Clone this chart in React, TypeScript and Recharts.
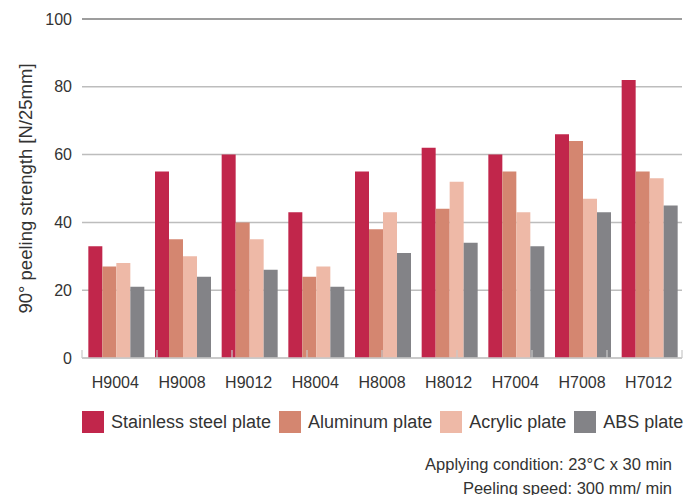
import { BarChart, Bar, XAxis, YAxis, CartesianGrid, ReferenceLine } from 'recharts'

const categories = ['H9004', 'H9008', 'H9012', 'H8004', 'H8008', 'H8012', 'H7004', 'H7008', 'H7012']
const stainless = [33, 55, 60, 43, 55, 62, 60, 66, 82]
const aluminum = [27, 35, 40, 24, 38, 44, 55, 64, 55]
const acrylic = [28, 30, 35, 27, 43, 52, 43, 47, 53]
const abs = [21, 24, 26, 21, 31, 34, 33, 43, 45]
const yTicks = [0, 20, 40, 60, 80, 100]
const boundaryTicks = [0, 1, 2, 3, 4, 5, 6, 7, 8, 9]

const SERIES = [
  { key: 'stainless', name: 'Stainless steel plate', color: '#c1264b' },
  { key: 'aluminum', name: 'Aluminum plate', color: '#d48670' },
  { key: 'acrylic', name: 'Acrylic plate', color: '#eeb9a7' },
  { key: 'abs', name: 'ABS plate', color: '#838387' },
]

const NOTES = ['Applying condition: 23°C x 30 min', 'Peeling speed: 300 mm/ min']

const data = categories.map((name, i) => ({
  name,
  stainless: stainless[i],
  aluminum: aluminum[i],
  acrylic: acrylic[i],
  abs: abs[i],
}))

const FONT = '"Liberation Sans", Arial, Helvetica, sans-serif'
const TEXT = '#333'

const YLabel = (props: any) => {
  const { viewBox } = props
  const cx = viewBox.x + 32
  const cy = viewBox.y + viewBox.height / 2
  return (
    <text x={cx} y={cy} transform={`rotate(-90 ${cx} ${cy})`} textAnchor="middle" fill={TEXT} fontSize={18.5} fontFamily={FONT}>
      90° peeling strength [N/25mm]
    </text>
  )
}

export default function App() {
  return (
    <div style={{ position: 'absolute', left: 0, top: 0, width: 684, height: 495, fontFamily: FONT, color: TEXT, background: '#fff' }}>
      <BarChart
        width={684}
        height={495}
        data={data}
        margin={{ top: 19, right: 2, left: 0, bottom: 107 }}
        barCategoryGap="9.5%"
        barGap={0}
      >
        <CartesianGrid vertical={false} stroke="#bdbdbd" strokeWidth={1.5} />
        <ReferenceLine y={100} stroke="#8c8c8c" strokeWidth={1.5} />
        <XAxis
          dataKey="name"
          axisLine={false}
          tickLine={false}
          height={30}
          tickSize={8}
          tickMargin={11}
          interval={0}
          tick={{ fontSize: 16, fill: TEXT, fontFamily: FONT }}
        />
        <XAxis
          xAxisId="bounds"
          type="number"
          domain={[0, 9]}
          ticks={boundaryTicks}
          interval={0}
          allowDataOverflow
          mirror
          tickSize={8}
          tickFormatter={() => ''}
          axisLine={{ stroke: '#c8c8c8', strokeWidth: 1.5 }}
          tickLine={{ stroke: '#c8c8c8', strokeWidth: 1.2 }}
        />
        <YAxis
          width={82}
          domain={[0, 100]}
          ticks={yTicks}
          axisLine={false}
          tickLine={false}
          tickSize={6}
          tickMargin={4}
          tick={{ fontSize: 16, fill: TEXT, fontFamily: FONT }}
          label={<YLabel />}
        />
        {SERIES.map((s) => (
          <Bar key={s.key} dataKey={s.key} name={s.name} fill={s.color} isAnimationActive={false} />
        ))}
      </BarChart>

      <div style={{ position: 'absolute', left: 82, top: 411, display: 'flex', alignItems: 'center', whiteSpace: 'nowrap' }}>
        {SERIES.map((s) => (
          <div key={s.key} style={{ display: 'flex', alignItems: 'center', marginRight: 8 }}>
            <span style={{ display: 'inline-block', width: 22, height: 22, background: s.color, marginRight: 7 }} />
            <span style={{ fontSize: 18, lineHeight: '22px' }}>{s.name}</span>
          </div>
        ))}
      </div>

      <div style={{ position: 'absolute', right: 12, top: 452, textAlign: 'right', fontSize: 16.5, lineHeight: '24px', whiteSpace: 'nowrap' }}>
        {NOTES.map((n) => (
          <div key={n}>{n}</div>
        ))}
      </div>
    </div>
  )
}
